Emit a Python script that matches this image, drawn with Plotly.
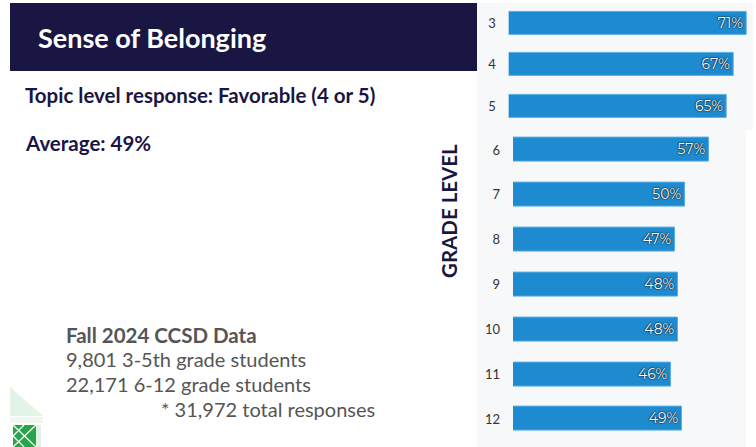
import plotly.graph_objects as go

W, H = 756, 447

# ---- data ----
grades_elem = ["3", "4", "5"]
favorable_elem = [71, 67, 65]
grades_sec = ["6", "7", "8", "9", "10", "11", "12"]
favorable_sec = [57, 50, 47, 48, 48, 46, 49]

title_text = "Sense of Belonging"
subtitle_text = "Topic level response: Favorable (4 or 5)"
average_text = "Average: 49%"
axis_title = "GRADE LEVEL"
footer_lines = ["Fall 2024 CCSD Data", "9,801 3-5th grade students",
                "22,171 6-12 grade students", "* 31,972 total responses"]

NAVY = "#1a1643"
BAR = "#1e8bd0"
PANEL = "#f7f8fa"
FONT = "Lato"


def px(x):
    return x / W


def py(y):
    return 1 - y / H


fig = go.Figure()

bar_common = dict(
    orientation="h",
    marker=dict(color=BAR, line=dict(color="#5aaee2", width=1)),
    texttemplate="%{x}%",
    textposition="inside",
    insidetextanchor="end",
    constraintext="none",
    textfont=dict(family="Montserrat, " + FONT, size=14, color="white",
                  shadow="0px 0px 2px #000, 0px 0px 1px #000"),
    hoverinfo="skip",
    showlegend=False,
)

fig.add_trace(go.Bar(x=favorable_elem, y=grades_elem, width=0.56,
                     xaxis="x", yaxis="y", **bar_common))
fig.add_trace(go.Bar(x=favorable_sec, y=grades_sec, width=0.535,
                     xaxis="x2", yaxis="y2", **bar_common))

xa_common = dict(showgrid=False, zeroline=False, showticklabels=False,
                 showline=False, fixedrange=True)
ya_common = dict(showgrid=False, zeroline=False, showline=False, type="category",
                 tickfont=dict(family=FONT, size=13, color="#333333"),
                 ticklabelstandoff=12, fixedrange=True)

fig.update_layout(
    width=W, height=H,
    margin=dict(l=0, r=0, t=0, b=0),
    paper_bgcolor="white",
    plot_bgcolor="rgba(0,0,0,0)",
    xaxis=dict(domain=[px(508.7), px(753)], range=[0, 72.9], **xa_common),
    yaxis=dict(domain=[py(126.6), py(2.9)], range=[2.5, -0.5], anchor="x", **ya_common),
    xaxis2=dict(domain=[px(513), px(746)], range=[0, 67.7], anchor="y2", **xa_common),
    yaxis2=dict(domain=[py(441.4), py(127.6)], range=[6.5, -0.5], anchor="x2", **ya_common),
    bargap=0,
)

shapes = []
# background panels
shapes.append(dict(type="rect", xref="paper", yref="paper", x0=px(477), x1=px(753),
                   y0=py(130), y1=py(3), fillcolor=PANEL, line=dict(width=0), layer="below"))
shapes.append(dict(type="rect", xref="paper", yref="paper", x0=px(477), x1=px(746),
                   y0=py(447), y1=py(130), fillcolor=PANEL, line=dict(width=0), layer="below"))
# header box
shapes.append(dict(type="rect", xref="paper", yref="paper", x0=px(10), x1=px(477),
                   y0=py(71), y1=py(3), fillcolor=NAVY, line=dict(width=0), layer="below"))
# logo decoration
shapes.append(dict(type="path", xref="paper", yref="paper",
                   path=f"M {px(10)},{py(387)} L {px(43)},{py(416)} L {px(10)},{py(416)} Z",
                   fillcolor="#e3f4e7", line=dict(width=0), layer="below"))
shapes.append(dict(type="rect", xref="paper", yref="paper", x0=px(10), x1=px(43),
                   y0=py(423), y1=py(417), fillcolor="#eef8f0", line=dict(width=0), layer="below"))
shapes.append(dict(type="rect", xref="paper", yref="paper", x0=px(13), x1=px(36),
                   y0=py(447), y1=py(425), fillcolor="#27a54b", line=dict(width=0), layer="below"))
shapes.append(dict(type="rect", xref="paper", yref="paper", x0=px(36), x1=px(41),
                   y0=py(447), y1=py(425), fillcolor="#dff2e4", line=dict(width=0), layer="below"))
for (xa, ya, xb, yb) in [(13, 425, 36, 447), (36, 425, 13, 447), (13, 436, 24, 447), (13, 436, 24, 425)]:
    shapes.append(dict(type="line", xref="paper", yref="paper", x0=px(xa), y0=py(ya),
                       x1=px(xb), y1=py(yb), line=dict(color="white", width=1.2)))
fig.update_layout(shapes=shapes)

ann = []
ann.append(dict(text=title_text, x=px(36), y=py(37), xref="paper", yref="paper",
                xanchor="left", yanchor="middle", showarrow=False,
                font=dict(family=FONT, size=27, color="white", weight="bold")))
ann.append(dict(text=subtitle_text, x=px(23), y=py(95), xref="paper", yref="paper",
                xanchor="left", yanchor="middle", showarrow=False,
                font=dict(family=FONT, size=20.5, color=NAVY, weight="bold")))
ann.append(dict(text=average_text, x=px(23), y=py(143), xref="paper", yref="paper",
                xanchor="left", yanchor="middle", showarrow=False,
                font=dict(family=FONT, size=20.5, color=NAVY, weight="bold")))
ann.append(dict(text=axis_title, x=px(449), y=py(211), xref="paper", yref="paper",
                xanchor="center", yanchor="middle", showarrow=False, textangle=-90,
                font=dict(family=FONT, size=20.5, color=NAVY, weight="bold")))
footer_pos = [(64, 335, "bold", 20.5), (64, 359, "normal", 20),
              (64, 384, "normal", 20), (159, 409, "normal", 20)]
for line, (x, y, w, s) in zip(footer_lines, footer_pos):
    ann.append(dict(text=line, x=px(x), y=py(y), xref="paper", yref="paper",
                    xanchor="left", yanchor="middle", showarrow=False,
                    font=dict(family=FONT, size=s, color="#555555", weight=w)))
fig.update_layout(annotations=ann)

fig.write_html("out.html", config={"displayModeBar": False},
               post_script="document.body.style.margin='0';")
